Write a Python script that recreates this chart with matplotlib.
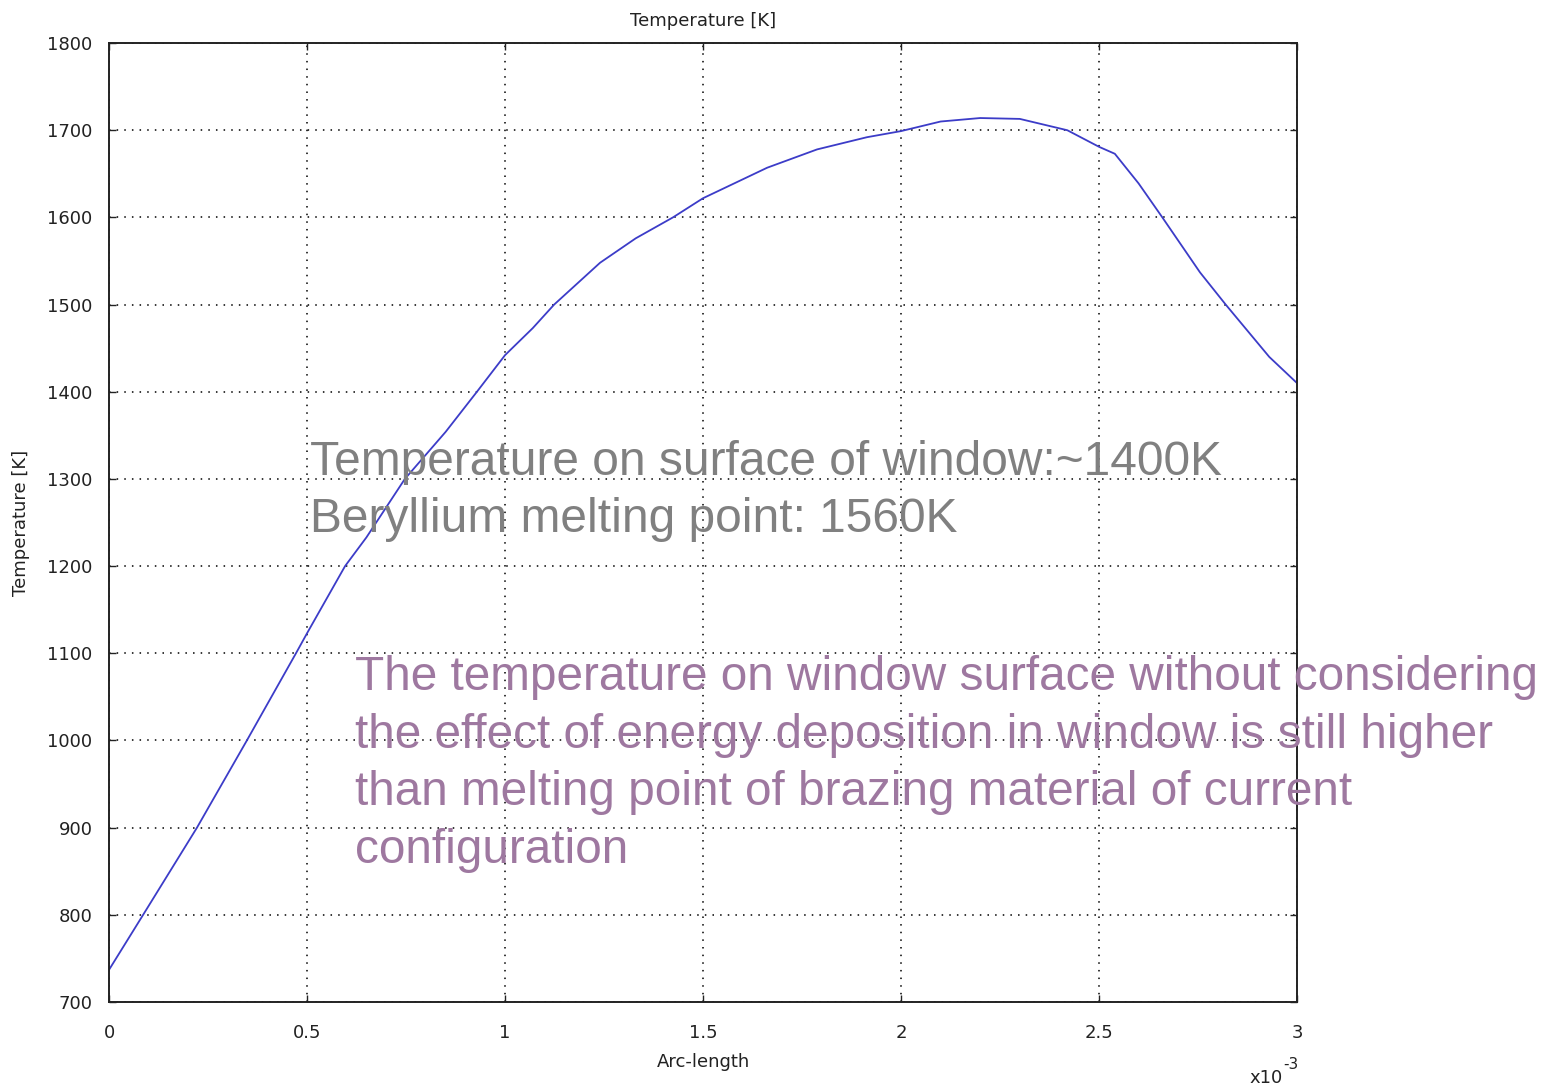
import matplotlib
matplotlib.use("Agg")
import matplotlib.pyplot as plt

# arc length (x1e-3) and surface temperature [K]
arc_length = [0.0, 0.086, 0.222, 0.348, 0.472, 0.5, 0.596, 0.65, 0.747, 0.85,
              0.929, 1.0, 1.07, 1.124, 1.24, 1.33, 1.424, 1.5, 1.662, 1.788,
              1.914, 2.0, 2.1, 2.2, 2.3, 2.42, 2.5, 2.54, 2.6, 2.66, 2.755,
              2.82, 2.93, 3.0]
temperature = [737, 800, 900, 1000, 1100, 1123, 1200, 1233, 1300, 1354,
               1400, 1442, 1473, 1500, 1548, 1576, 1600, 1622, 1657, 1678,
               1692, 1699, 1710, 1714, 1713, 1700, 1681, 1673, 1639, 1600, 1537,
               1500, 1440, 1410]

x_ticks = [0, 0.5, 1, 1.5, 2, 2.5, 3]
x_ticklabels = ["0", "0.5", "1", "1.5", "2", "2.5", "3"]
y_ticks = [700, 800, 900, 1000, 1100, 1200, 1300, 1400, 1500, 1600, 1700, 1800]

grey_lines = ["Temperature on surface of window:~1400K",
              "Beryllium melting point: 1560K"]
purple_lines = ["The temperature on window surface without considering",
                "the effect of energy deposition in window is still higher",
                "than melting point of brazing material of current",
                "configuration"]

plt.rcParams["font.family"] = "DejaVu Sans"

fig = plt.figure(figsize=(15.6, 10.9), dpi=100)
ax = fig.add_axes([0.0699, 0.0807, 0.7615, 0.8798])

ax.plot(arc_length, temperature, color="#3c3cc8", lw=1.3)

ax.set_xlim(0, 3)
ax.set_ylim(700, 1800)
ax.set_xticks(x_ticks)
ax.set_xticklabels(x_ticklabels)
ax.set_yticks(y_ticks)
ax.tick_params(direction="in", top=True, right=True, length=5, width=1,
               labelsize=13, colors="#222222")
ax.tick_params(axis="y", pad=12)
ax.tick_params(axis="x", pad=16)
ax.grid(True, linestyle=(0, (1, 4)), color="black", lw=1.1)
for sp in ax.spines.values():
    sp.set_linewidth(1.4)
    sp.set_color("#222222")

ax.set_title("Temperature [K]", fontsize=13, pad=12, color="#222222")
ax.set_xlabel("Arc-length", fontsize=13, labelpad=8, color="#222222")
ax.set_ylabel("Temperature [K]", fontsize=13, labelpad=12, color="#222222")
# exponent marker below the x axis
fig.text(1283 / 1560, 1 - 1083 / 1090, "x10", ha="right", va="baseline",
         fontsize=13, color="#222222")
fig.text(1299 / 1560, 1 - 1069 / 1090, "-3", ha="right", va="baseline",
         fontsize=11, color="#222222")

# overlaid comments
for i, line in enumerate(grey_lines):
    fig.text(310 / 1560, 1 - (475 + 57 * i) / 1090, line, ha="left",
             va="baseline", fontsize=34.5, color="#808080",
             family="Liberation Sans")
for i, line in enumerate(purple_lines):
    fig.text(355 / 1560, 1 - (690 + 57.7 * i) / 1090, line, ha="left",
             va="baseline", fontsize=34.4, color="#9e78a0",
             family="Liberation Sans")

fig.savefig("out.png", dpi=100)
